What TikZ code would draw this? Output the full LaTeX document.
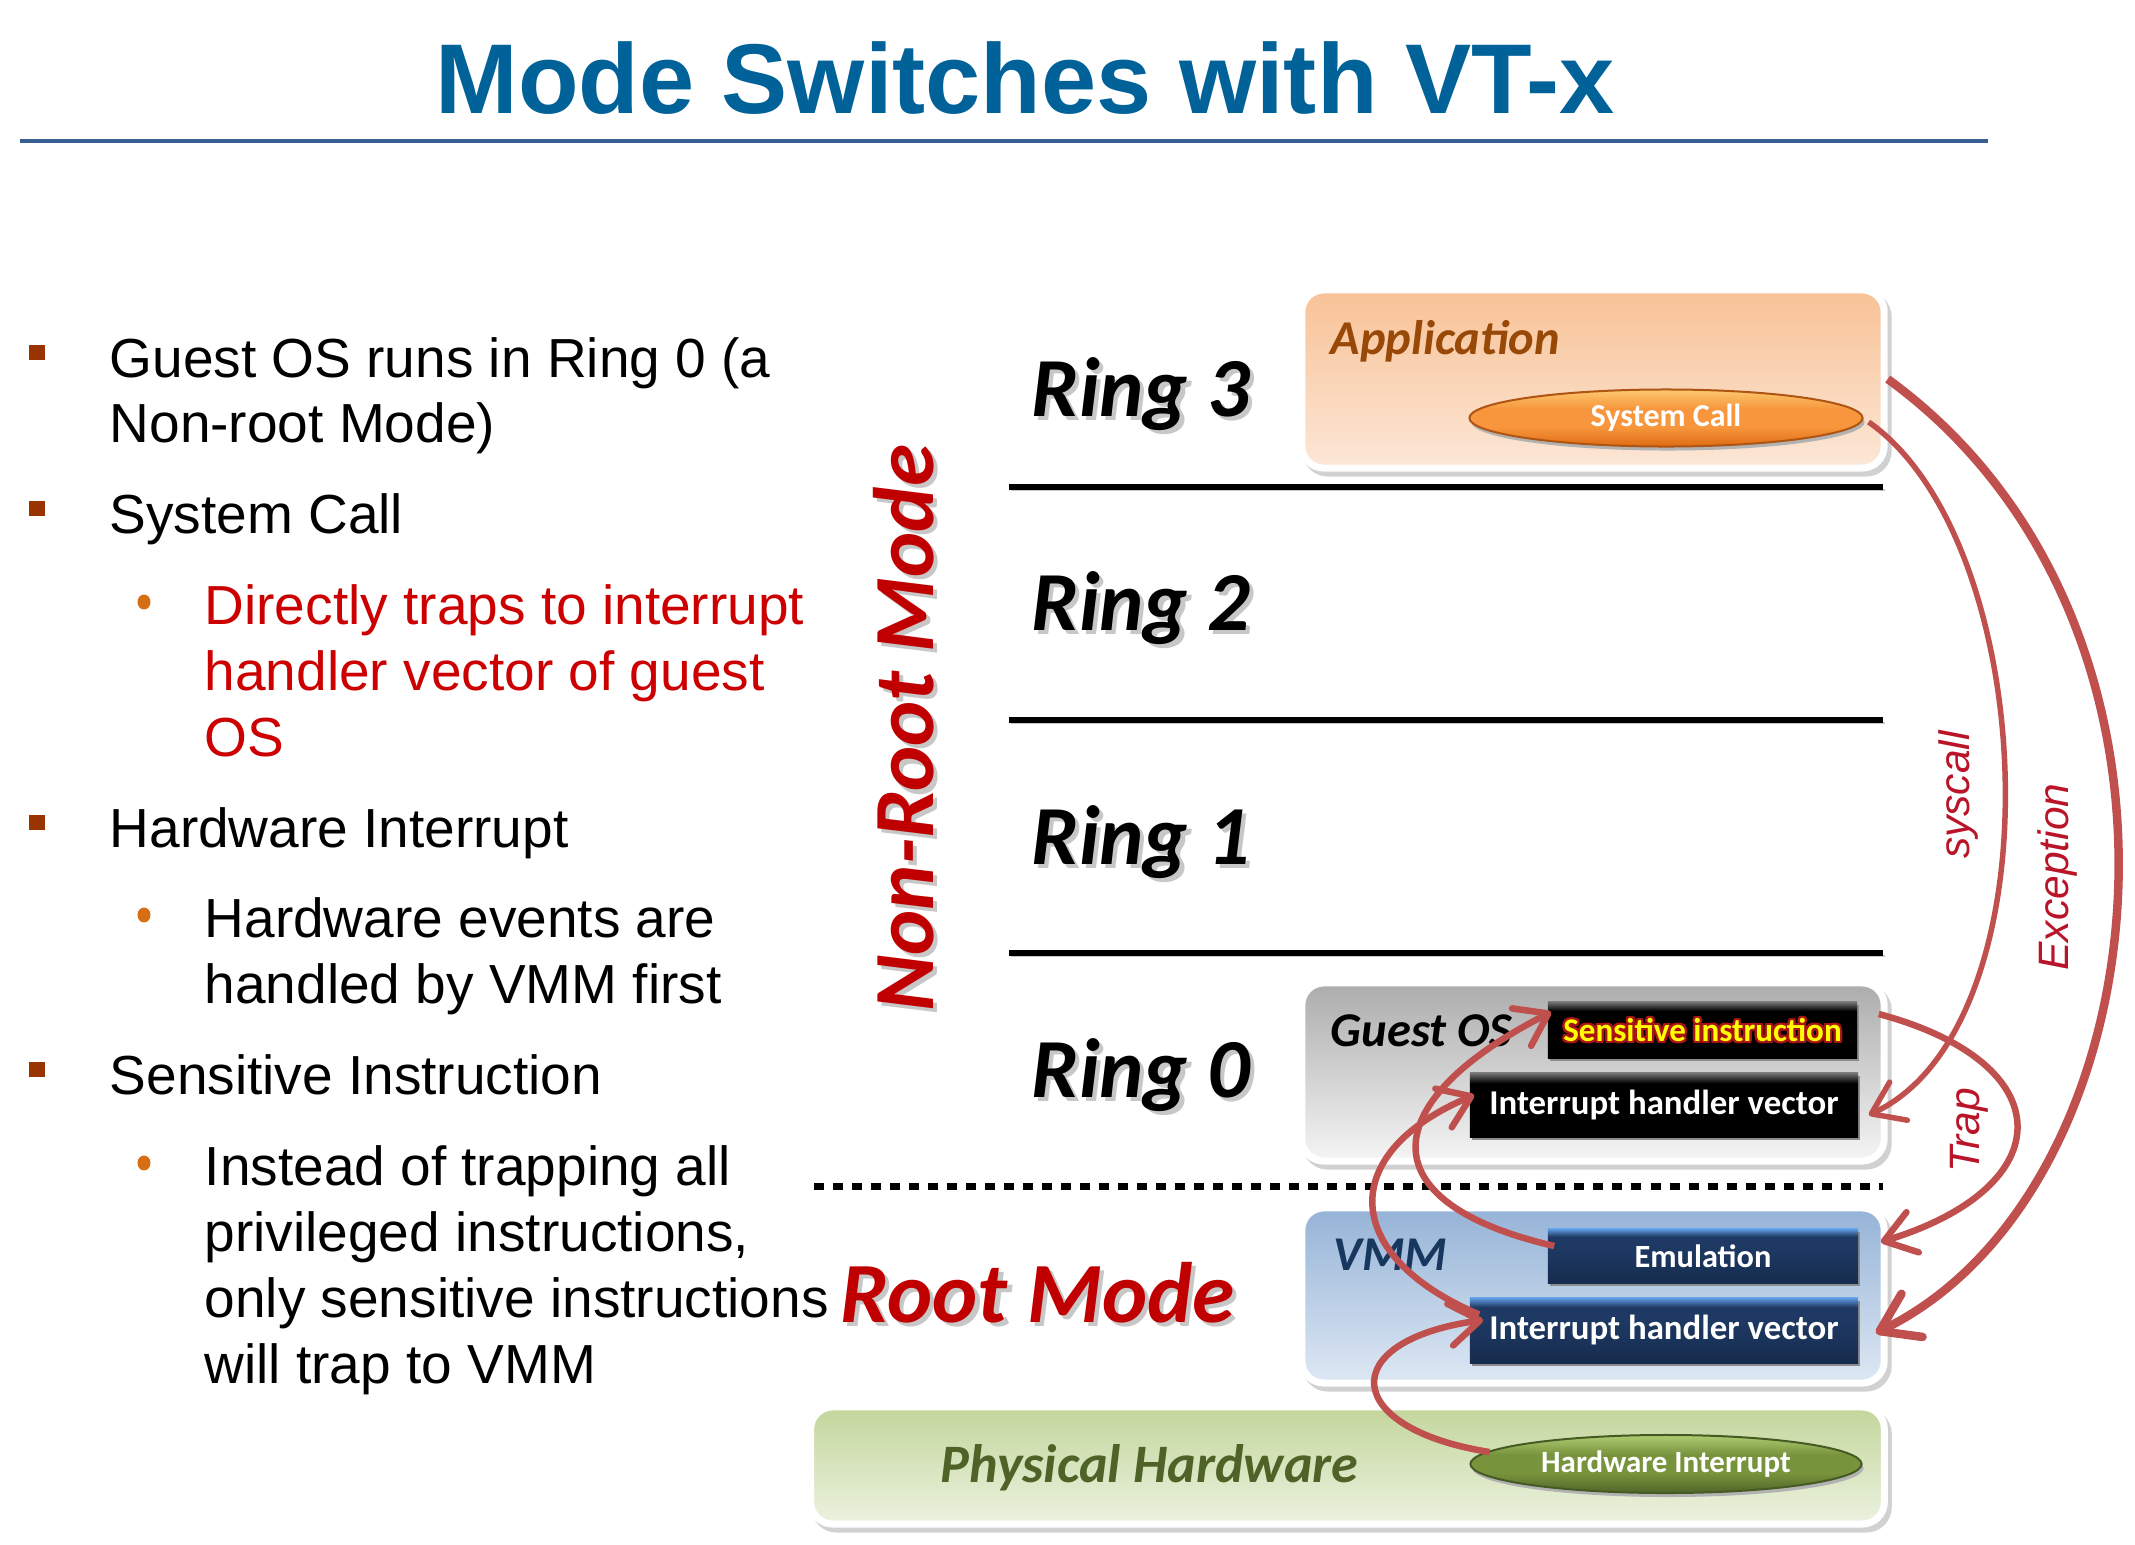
\documentclass[tikz,border=0pt]{standalone}
\usepackage{fontspec}
\setmainfont{Liberation Sans}
\newfontfamily\calfont{Carlito}
\usetikzlibrary{shapes.geometric,arrows.meta}

% palette
\definecolor{titleblue}{RGB}{0,98,152}
\definecolor{ruleblue}{RGB}{54,96,146}
\definecolor{bulletbrown}{RGB}{153,51,0}
\definecolor{dotorange}{RGB}{214,110,20}
\definecolor{textred}{RGB}{204,0,0}
\definecolor{modered}{RGB}{192,0,0}
\definecolor{arrowred}{RGB}{192,80,77}
\definecolor{labelred}{RGB}{185,20,40}
\definecolor{appbrown}{RGB}{152,72,7}
\definecolor{apptop}{RGB}{248,194,150}
\definecolor{appbot}{RGB}{252,231,215}
\definecolor{ostop}{RGB}{172,172,172}
\definecolor{osbot}{RGB}{245,245,245}
\definecolor{vmmtop}{RGB}{149,179,215}
\definecolor{vmmbot}{RGB}{222,232,244}
\definecolor{vmmtext}{RGB}{23,55,94}
\definecolor{hwtop}{RGB}{195,214,155}
\definecolor{hwbot}{RGB}{236,242,224}
\definecolor{hwtext}{RGB}{79,98,40}
\definecolor{navytop}{RGB}{95,155,225}
\definecolor{navymid}{RGB}{30,58,100}
\definecolor{navybot}{RGB}{22,44,78}
\definecolor{ortop}{RGB}{252,200,110}
\definecolor{ormid}{RGB}{247,150,60}
\definecolor{orbot}{RGB}{222,108,20}
\definecolor{orline}{RGB}{175,85,20}
\definecolor{grtop}{RGB}{175,205,115}
\definecolor{grmid}{RGB}{119,147,60}
\definecolor{grbot}{RGB}{80,100,40}
\definecolor{grline}{RGB}{70,90,35}
\definecolor{glowred}{RGB}{170,20,20}
\definecolor{glowyellow}{RGB}{255,255,0}

% bar and pill shadings (path box maps to 25bp..75bp)
\pgfdeclareverticalshading{navybar}{100bp}{color(0bp)=(navybot); color(25bp)=(navybot); color(60bp)=(navymid); color(68bp)=(navymid); color(75bp)=(navytop); color(100bp)=(navytop)}
\pgfdeclareverticalshading{blackbar}{100bp}{color(0bp)=(black); color(25bp)=(black); color(67bp)=(black); color(75bp)=(black!55); color(100bp)=(black!55)}
\pgfdeclareverticalshading{orangepill}{100bp}{color(0bp)=(orbot); color(25bp)=(orbot); color(42bp)=(ormid); color(58bp)=(ormid); color(75bp)=(ortop); color(100bp)=(ortop)}
\pgfdeclareverticalshading{greenpill}{100bp}{color(0bp)=(grbot); color(25bp)=(grbot); color(42bp)=(grmid); color(58bp)=(grmid); color(75bp)=(grtop); color(100bp)=(grtop)}

% text with a faint offset shadow copy behind it
\newcommand\castshadow[4]{\leavevmode\rlap{\hspace*{#1}\raisebox{#2}{\textcolor{#3}{#4}}}#4}
% yellow text with a red halo
\newcommand\redglow[1]{\leavevmode
\rlap{\hspace*{-0.7pt}\textcolor{glowred}{#1}}%
\rlap{\hspace*{0.7pt}\textcolor{glowred}{#1}}%
\rlap{\raisebox{0.7pt}{\textcolor{glowred}{#1}}}%
\rlap{\raisebox{-0.7pt}{\textcolor{glowred}{#1}}}%
\rlap{\hspace*{0.5pt}\raisebox{0.5pt}{\textcolor{glowred}{#1}}}%
\rlap{\hspace*{-0.5pt}\raisebox{-0.5pt}{\textcolor{glowred}{#1}}}%
\rlap{\hspace*{0.5pt}\raisebox{-0.5pt}{\textcolor{glowred}{#1}}}%
\rlap{\hspace*{-0.5pt}\raisebox{0.5pt}{\textcolor{glowred}{#1}}}%
\textcolor{glowyellow}{#1}}

\begin{document}
\begin{tikzpicture}[x=0.01cm,y=0.01cm,
  title/.style={font=\bfseries\fontsize{28.2}{34}\selectfont, text=titleblue, anchor=base, inner sep=0},
  body/.style={font=\fontsize{15.65}{18}\selectfont, anchor=base west, inner sep=0},
  sqbullet/.style={rectangle, fill=bulletbrown, minimum size=0.15cm, inner sep=0},
  dotbullet/.style={ellipse, fill=dotorange, minimum width=0.13cm, minimum height=0.15cm, inner sep=0},
  ringlabel/.style={font=\calfont\bfseries\itshape\fontsize{23.9}{29}\selectfont, anchor=base west, inner sep=0},
  modelabel/.style={font=\calfont\bfseries\itshape\fontsize{24.4}{29}\selectfont, text=modered, inner sep=0},
  ringline/.style={line width=0.065cm, black, preaction={draw=black!22, transform canvas={xshift=0.02cm,yshift=-0.03cm}}},
  sepline/.style={line width=0.07cm, dash pattern=on 0.1cm off 0.09cm},
  panel/.style={rectangle, rounded corners=0.22cm, draw=white, line width=0.07cm,
    preaction={draw=black!18, fill=black!18, transform canvas={xshift=0.04cm,yshift=-0.05cm}}},
  paneltext/.style={font=\calfont\bfseries\itshape\fontsize{13.8}{16}\selectfont, anchor=base west, inner sep=0},
  bar/.style={rectangle, inner sep=0, text=white,
    preaction={fill=black!45, transform canvas={xshift=0.02cm,yshift=-0.03cm}}},
  pill/.style={ellipse, inner sep=0, text=white, line width=0.02cm,
    preaction={fill=black!30, transform canvas={xshift=0.02cm,yshift=-0.04cm}}},
  flow/.style={draw=arrowred, line width=0.065cm, -{Straight Barb[length=0.3cm,width=0.42cm,round]}},
  arrowlabel/.style={font=\itshape\fontsize{12.1}{14}\selectfont, text=labelred, rotate=90, inner sep=0}
]
\useasboundingbox (0,0) rectangle (2135,-1545);
\fill[white] (0,0) rectangle (2135,-1545);

% heading
\node[title] (title) at (1025,-113) {Mode Switches with VT-x};
\draw[ruleblue, line width=0.045cm] (20,-141) -- (1988,-141);

% bullet list
\node[sqbullet] (b1) at (37,-352) {};
\node[body] (t1a) at (109,-377) {Guest OS runs in Ring 0 (a};
\node[body] (t1b) at (109,-442) {Non-root Mode)};
\node[sqbullet] (b2) at (37,-508) {};
\node[body] (t2) at (109,-533) {System Call};
\node[dotbullet] (d2) at (144,-602) {};
\node[body, text=textred] (t2a) at (204,-624) {Directly traps to interrupt};
\node[body, text=textred] (t2b) at (204,-690) {handler vector of guest};
\node[body, text=textred] (t2c) at (204,-756) {OS};
\node[sqbullet] (b3) at (37,-822) {};
\node[body] (t3) at (109,-847) {Hardware Interrupt};
\node[dotbullet] (d3) at (144,-915) {};
\node[body] (t3a) at (204,-937) {Hardware events are};
\node[body] (t3b) at (204,-1003) {handled by VMM first};
\node[sqbullet] (b4) at (37,-1069) {};
\node[body] (t4) at (109,-1094) {Sensitive Instruction};
\node[dotbullet] (d4) at (144,-1163) {};
\node[body] (t4a) at (204,-1185) {Instead of trapping all};
\node[body] (t4b) at (204,-1251) {privileged instructions,};
\node[body] (t4c) at (204,-1317) {only sensitive instructions};
\node[body] (t4d) at (204,-1383) {will trap to VMM};

% ring separators
\draw[ringline] (1009,-487) -- (1883,-487);
\draw[ringline] (1009,-720) -- (1883,-720);
\draw[ringline] (1009,-953) -- (1883,-953);
\draw[sepline] (814,-1186) -- (1883,-1186);

% ring names and modes
\node[ringlabel] (r3) at (1031,-416) {\castshadow{1.2pt}{-1.2pt}{black!22}{Ring 3}};
\node[ringlabel] (r2) at (1031,-630) {\castshadow{1.2pt}{-1.2pt}{black!22}{Ring 2}};
\node[ringlabel] (r1) at (1031,-864) {\castshadow{1.2pt}{-1.2pt}{black!22}{Ring 1}};
\node[ringlabel] (r0) at (1031,-1097) {\castshadow{1.2pt}{-1.2pt}{black!22}{Ring 0}};
\node[modelabel, rotate=90, anchor=base] (nonroot) at (933,-728) {\castshadow{-1.2pt}{-1.2pt}{black!22}{Non-Root Mode}};
\node[modelabel, anchor=base west] (root) at (840,-1322) {\castshadow{1.2pt}{-1.2pt}{black!22}{Root Mode}};

% application layer
\node[panel, top color=apptop, bottom color=appbot, minimum width=5.82cm, minimum height=1.78cm] (app) at (1593,-379) {};
\node[paneltext, text=appbrown] (apptext) at (1330,-354) {Application};
\node[pill, shading=orangepill, draw=orline, minimum width=3.93cm, minimum height=0.57cm,
  font=\calfont\bfseries\fontsize{9.1}{11}\selectfont] (sc) at (1666,-418) {System Call};

% guest OS layer
\node[panel, top color=ostop, bottom color=osbot, minimum width=5.82cm, minimum height=1.78cm] (gos) at (1593,-1072) {};
\node[paneltext, text=black] (gostext) at (1330,-1046) {Guest OS};
\node[bar, shading=blackbar, minimum width=3.09cm, minimum height=0.56cm,
  font=\calfont\bfseries\fontsize{9.4}{11}\selectfont] (sens) at (1702.5,-1030) {\redglow{Sensitive instruction}};
\node[bar, shading=blackbar, minimum width=3.88cm, minimum height=0.64cm,
  font=\calfont\bfseries\fontsize{9.9}{12}\selectfont] (gihv) at (1664,-1105) {Interrupt handler vector};

% VMM layer
\node[panel, top color=vmmtop, bottom color=vmmbot, minimum width=5.82cm, minimum height=1.75cm] (vmm) at (1593,-1295.5) {};
\node[paneltext, text=vmmtext] (vmmtext) at (1333,-1270) {VMM};
\node[bar, shading=navybar, minimum width=3.10cm, minimum height=0.54cm,
  font=\calfont\bfseries\fontsize{9.2}{11}\selectfont] (emu) at (1703,-1256) {Emulation};
\node[bar, shading=navybar, minimum width=3.88cm, minimum height=0.65cm,
  font=\calfont\bfseries\fontsize{9.9}{12}\selectfont] (vihv) at (1664,-1330.5) {Interrupt handler vector};

% hardware layer
\node[panel, top color=hwtop, bottom color=hwbot, minimum width=10.73cm, minimum height=1.17cm] (phys) at (1347.5,-1465.5) {};
\node[paneltext, text=hwtext, font=\calfont\bfseries\itshape\fontsize{15.4}{18}\selectfont] (phystext) at (940,-1482) {Physical Hardware};
\node[pill, shading=greenpill, draw=grline, minimum width=3.91cm, minimum height=0.58cm,
  font=\calfont\bfseries\fontsize{8.8}{11}\selectfont] (hwint) at (1666,-1464) {Hardware Interrupt};

% transitions
\draw[flow, line width=0.085cm, -{Straight Barb[length=0.36cm,width=0.48cm,round]}]
  (app.east) .. controls +(-36:420) and +(26:320) .. ([shift={(17,-2.5)}]vihv.east);
\draw[flow, line width=0.055cm]
  ([shift={(5,-4)}]sc.east) .. controls +(-35:210) and +(25:210) .. ([shift={(10,-10)}]gihv.east);
\draw[flow]
  ([shift={(21,16)}]sens.east) .. controls +(-15:190) and +(17:190) .. ([shift={(22,14)}]emu.east);
\draw[flow]
  ([shift={(7,10)}]emu.west) .. controls +(167:195) and +(207:195) .. ([shift={(4,18)}]sens.west);
\draw[flow]
  ([shift={(10,16)}]vihv.west) .. controls +(157:150) and +(203:150) .. ([shift={(5,10)}]gihv.west);
\draw[flow]
  ([shift={(20,12)}]hwint.west) .. controls +(171:150) and +(188:150) .. ([shift={(14,10.5)}]vihv.west);

% transition names
\node[arrowlabel] (lsys) at (1958,-795) {syscall};
\node[arrowlabel] (lexc) at (2057,-877) {Exception};
\node[arrowlabel] (ltrap) at (1969,-1130) {Trap};
\end{tikzpicture}
\end{document}
